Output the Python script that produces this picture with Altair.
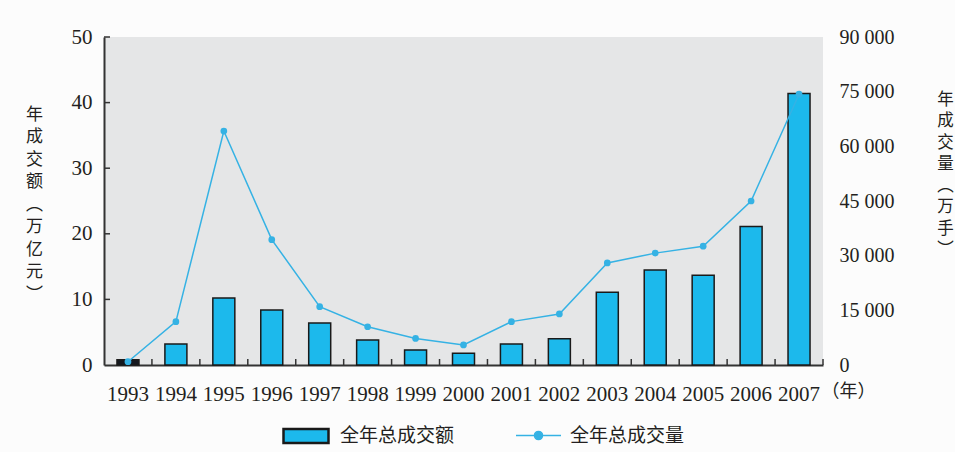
import altair as alt
import pandas as pd

years = ["1993", "1994", "1995", "1996", "1997", "1998", "1999", "2000",
         "2001", "2002", "2003", "2004", "2005", "2006", "2007"]
turnover = [0.8, 3.2, 10.2, 8.4, 6.4, 3.8, 2.3, 1.8, 3.2, 4.0, 11.1, 14.5, 13.7, 21.1, 41.4]
volume = [900, 11900, 64200, 34400, 16000, 10500, 7300, 5500,
          11900, 14000, 28000, 30700, 32600, 45000, 74300]
left_ticks = [0, 10, 20, 30, 40, 50]
right_ticks = [0, 15000, 30000, 45000, 60000, 75000, 90000]
bar_name = "全年总成交额"
line_name = "全年总成交量"
left_title = ["年", "成", "交", "额", "︵", "万", "亿", "元", "︶"]
right_title = ["年", "成", "交", "量", "︵", "万", "手", "︶"]
x_title = "（年）"

df = pd.DataFrame({"year": years, "turnover": turnover, "volume": volume,
                   "s1": bar_name, "s2": line_name})
tick_df = pd.DataFrame({"turnover": left_ticks[1:]})

W, H = 719, 328
NUM_FONT = "Liberation Serif"
CJK_FONT = "Noto Sans CJK SC"
TXT = "#231f20"
AX = "#333333"
BAR = "#1cb9ec"
LINE = "#35b2e4"

x_axis = alt.Axis(title=x_title, titleFont=CJK_FONT, titleFontSize=18,
                  titleFontWeight="normal", titleColor=TXT, titleAngle=0,
                  titleX=717, titleY=26, titleAlign="left", titleBaseline="middle",
                  labelAngle=0, labelFont=NUM_FONT, labelFontSize=21, labelColor=TXT,
                  labelPadding=18, tickSize=0, domainColor=AX, domainWidth=1.8)

yleft_scale = alt.Scale(domain=[0, 50], nice=False)
yright_scale = alt.Scale(domain=[0, 90000], nice=False)

left_axis = alt.Axis(values=left_ticks, title=left_title, titleAngle=0,
                     titleX=-70, titleY=69, titleAlign="center", titleBaseline="top",
                     titleFont=CJK_FONT, titleFontSize=17, titleFontWeight="normal",
                     titleColor=TXT, titleLineHeight=22.5,
                     labelFont=NUM_FONT, labelFontSize=21, labelColor=TXT,
                     labelPadding=12, tickSize=0, grid=False,
                     domainColor=AX, domainWidth=2)

right_axis = alt.Axis(orient="right", values=right_ticks, title=right_title, titleAngle=0,
                      titleX=122, titleY=54, titleAlign="center", titleBaseline="top",
                      titleFont=CJK_FONT, titleFontSize=16.5, titleFontWeight="normal",
                      titleColor=TXT, titleLineHeight=21.5,
                      labelExpr="replace(format(datum.value, ',d'), ',', ' ')",
                      labelFont=NUM_FONT, labelFontSize=20, labelColor=TXT,
                      labelPadding=16, tickSize=0, grid=False, domain=False)

bars = alt.Chart(df).mark_bar(size=22, stroke="#1a1a1a", strokeWidth=1.5).encode(
    x=alt.X("year:N", sort=years, scale=alt.Scale(paddingInner=0, paddingOuter=0), axis=x_axis),
    y=alt.Y("turnover:Q", scale=yleft_scale, axis=left_axis),
    fill=alt.condition(alt.datum.year == "1993", alt.value("#14181f"),
                       alt.Fill("s1:N", scale=alt.Scale(range=[BAR]),
                                legend=alt.Legend(title=None, orient="none", legendX=178, legendY=375,
                                                  symbolType="M-1,-0.31L1,-0.31L1,0.31L-1,0.31Z",
                                                  symbolSize=2025, symbolStrokeColor="#1a1a1a",
                                                  symbolStrokeWidth=2.5, labelFont=CJK_FONT,
                                                  labelFontSize=19, labelColor=TXT, labelOffset=10))),
)

yticks = alt.Chart(tick_df).mark_rule(color=AX, strokeWidth=1.5).encode(
    y=alt.Y("turnover:Q"),
    x=alt.value(0), x2=alt.value(6),
)

xticks = alt.Chart(df).mark_rule(color=AX, strokeWidth=1.5).encode(
    x=alt.X("year:N", sort=years, bandPosition=1),
    y=alt.value(H), y2=alt.value(H - 6),
)

line = alt.Chart(df).mark_line(strokeWidth=1.5).encode(
    x=alt.X("year:N", sort=years),
    y=alt.Y("volume:Q", scale=yright_scale, axis=right_axis),
    stroke=alt.Stroke("s2:N", scale=alt.Scale(range=[LINE]),
                      legend=alt.Legend(title=None, orient="none", legendX=411, legendY=375,
                                        symbolType="M-1,0L1,0M-0.18,0A0.18,0.18,0,1,1,0.18,0A0.18,0.18,0,1,1,-0.18,0Z",
                                        symbolSize=2025, symbolFillColor=LINE, symbolStrokeWidth=1.5,
                                        labelFont=CJK_FONT, labelFontSize=19, labelColor=TXT,
                                        labelOffset=8)),
)

pts = alt.Chart(df).mark_circle(size=45, color=LINE, opacity=1).encode(
    x=alt.X("year:N", sort=years),
    y=alt.Y("volume:Q"),
)

left_layer = alt.layer(bars, yticks, xticks)
right_layer = alt.layer(line, pts)

chart = alt.layer(left_layer, right_layer).resolve_scale(
    y="independent", fill="independent", stroke="independent"
).properties(
    width=W, height=H,
    autosize=alt.AutoSizeParams(type="none"),
    padding={"left": 104, "top": 37, "right": 132, "bottom": 87},
    background="#fcfcfc",
).configure_view(fill="#e5e6e7", stroke=None)

chart.save("out.html", embed_options={"renderer": "svg", "actions": False})
